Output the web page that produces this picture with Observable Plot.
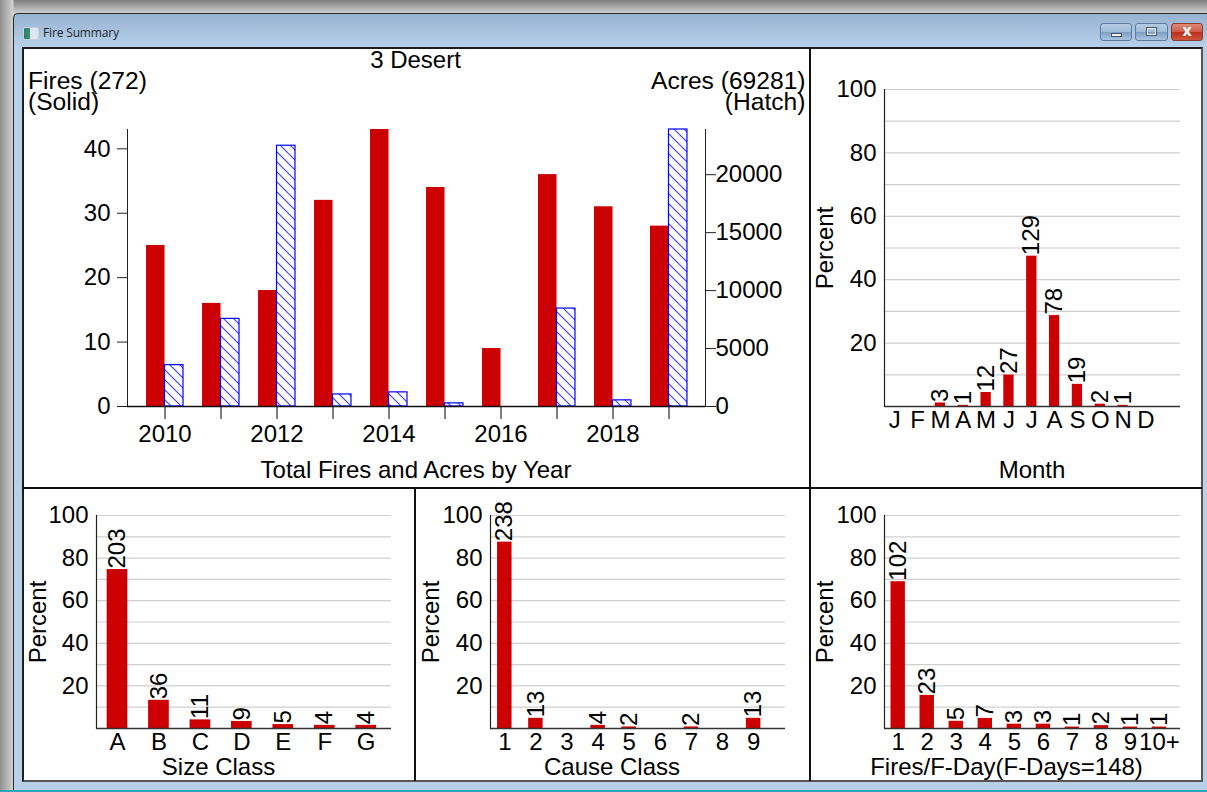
<!DOCTYPE html>
<html>
<head>
<meta charset="utf-8">
<title>Fire Summary</title>
<script src="https://cdn.jsdelivr.net/npm/d3@7"></script>
<script src="https://cdn.jsdelivr.net/npm/@observablehq/plot@0.6"></script>
<style>
html,body{margin:0;padding:0;width:1207px;height:792px;overflow:hidden;background:#c4c4c4;}
.abs{position:absolute;}
#shade{left:0;top:0;width:1207px;height:792px;background:linear-gradient(90deg,#8f8f8f 0,#d2d2d2 13px,transparent 14px),linear-gradient(180deg,#7d7d7d 0,#cfcfcf 13px);}
#win{left:13px;top:13px;width:1194px;height:778px;box-sizing:border-box;border:1px solid #2c2c2c;border-right:none;border-bottom:none;border-radius:5px 0 0 0;background:linear-gradient(180deg,#97b2d1 0,#b8d0ea 33px,#b8d0ea 100%);}
#teal{left:0;top:790px;width:1207px;height:2px;background:#2ba7b8;}
#sheet{left:22px;top:47px;width:1181px;height:735px;background:#fff;box-sizing:border-box;border:2px solid #1c1c1c;border-bottom-color:#555;border-right-color:#555;}
.div{background:#111;}
#ttl{left:43px;top:25px;font:12px "Open Sans",sans-serif;color:#20262e;line-height:16px;letter-spacing:-.15px;}
#ico{left:23px;top:27px;width:14px;height:11px;background:linear-gradient(90deg,#2f7f66 0,#3d8f78 45%,#dfe6ee 46%);border:1px solid #c9d2dc;border-radius:2px;}
.btn{top:23px;height:18px;box-sizing:border-box;border:1px solid #5d7ea3;border-radius:3px;background:linear-gradient(180deg,#b5cbe2 0,#a0bbd8 50%,#7f9fc2 52%,#a8c4e0 100%);}
.svgbox{position:absolute;}
.svgbox svg{display:block;}
</style>
</head>
<body>
<div class="abs" id="shade"></div>
<div class="abs" id="win"></div>
<div class="abs" id="teal"></div>
<div class="abs" id="ico"></div>
<div class="abs" id="ttl">Fire Summary</div>
<div class="abs btn" style="left:1100px;width:32px"><div class="abs" style="left:10px;top:9px;width:11px;height:4px;background:#eef3f8;border:1px solid #44566c;box-sizing:border-box"></div></div>
<div class="abs btn" style="left:1135px;width:33px"><div class="abs" style="left:10px;top:3px;width:11px;height:9px;border:2px solid #eef3f8;outline:1px solid #44566c;outline-offset:-1px;box-sizing:border-box"></div></div>
<div class="abs btn" style="left:1171px;width:32px;border-color:#8c3b30;background:linear-gradient(180deg,#dd8a7a 0,#cf5a47 50%,#b8301c 52%,#d0543c 100%)"><div class="abs" style="left:0;top:-2px;width:30px;text-align:center;font:bold 15px 'DejaVu Sans',sans-serif;line-height:18px;color:#f4f4f4">x</div></div>
<div class="abs" id="sheet"></div>
<div class="abs div" style="left:809px;top:48px;width:2px;height:733px"></div>
<div class="abs div" style="left:23px;top:487px;width:1179px;height:2px"></div>
<div class="abs div" style="left:414px;top:488px;width:2px;height:293px"></div>
<div id="charts"></div>
<script>
// ---- Data ----
const years = [2010, 2011, 2012, 2013, 2014, 2015, 2016, 2017, 2018, 2019];
const fires = [25, 16, 18, 32, 43, 34, 9, 36, 31, 28];
const acres = [3570, 7560, 22500, 1040, 1220, 270, 0, 8450, 530, 23900];

const months = ["J", "F", "M", "A", "M", "J", "J", "A", "S", "O", "N", "D"];
const monthCounts = [0, 0, 3, 1, 12, 27, 129, 78, 19, 2, 1, 0];

const sizeClasses = ["A", "B", "C", "D", "E", "F", "G"];
const sizeCounts = [203, 36, 11, 9, 5, 4, 4];

const causeClasses = ["1", "2", "3", "4", "5", "6", "7", "8", "9"];
const causeCounts = [238, 13, 0, 4, 2, 0, 2, 0, 13];

const fireDayClasses = ["1", "2", "3", "4", "5", "6", "7", "8", "9", "10+"];
const fireDayCounts = [102, 23, 5, 7, 3, 3, 1, 2, 1, 1];

const RED = "#cc0000", BLUE = "#0000ff", HATCH = "#3a3aff", GRID = "#cfcfcf";
const FONT = {fontFamily: "'Liberation Sans', Arial, sans-serif", fontSize: "24px", background: "transparent", color: "#000", overflow: "visible"};
const charts = document.getElementById("charts");

function place(svg, left, top) {
  const box = document.createElement("div");
  box.className = "svgbox";
  box.style.left = left + "px";
  box.style.top = top + "px";
  box.appendChild(svg);
  charts.appendChild(box);
}

// ---- Top-left: fires and acres by year ----
const firesMax = 43, acresMax = 23900;
const toFires = d3.scaleLinear([0, acresMax], [0, firesMax]);
const yearRows = years.map((year, i) => ({year, fires: fires[i], acres: acres[i]}));
const hatch = () => {
  const s = d3.create("svg:defs");
  const p = s.append("pattern").attr("id", "hatch").attr("patternUnits", "userSpaceOnUse")
    .attr("width", 10).attr("height", 10);
  p.append("path").attr("d", "M-1,-1L11,11M-1,9L1,11M9,-1L11,1").attr("stroke", HATCH).attr("stroke-width", 1.1).attr("fill", "none");
  return s.node();
};
place(Plot.plot({
  width: 786, height: 440,
  marginLeft: 104, marginRight: 104, marginTop: 81, marginBottom: 82,
  style: FONT,
  x: {type: "linear", domain: [2009.33, 2019.652]},
  y: {domain: [0, firesMax]},
  marks: [
    hatch,
    Plot.rectY(yearRows, {x1: d => d.year - 0.33, x2: d => d.year, y1: 0, y2: "fires", fill: RED}),
    Plot.rectY(yearRows.filter(d => d.acres > 0), {x1: d => d.year, x2: d => d.year + 0.33, y1: 0, y2: d => toFires(d.acres), fill: "url(#hatch)", stroke: BLUE, strokeWidth: 1.2}),
    Plot.axisX(years, {anchor: "bottom", label: null, tickSize: 13, tickPadding: 5, stroke: "#555", strokeWidth: 1.5, fill: "#000", tickFormat: d => d % 2 === 0 ? String(d) : ""}),
    Plot.axisY([0, 10, 20, 30, 40], {anchor: "left", label: null, tickSize: 10, tickPadding: 7, stroke: "#222", fill: "#000"}),
    Plot.axisY(d3.range(0, 20001, 5000), {anchor: "right", label: null, tickSize: 10, tickPadding: 0, stroke: "#222", fill: "#000", y: d => toFires(d), tickFormat: d => String(d)}),
    Plot.frame({anchor: "left", stroke: "#222", strokeWidth: 1}),
    Plot.frame({anchor: "right", stroke: "#222", strokeWidth: 1}),
    Plot.ruleY([0], {stroke: "#111", strokeWidth: 1.5}),
    Plot.text(["3 Desert"], {text: d => d, frameAnchor: "top", dx: -1, dy: -79, fill: "#000"}),
    Plot.text(["Fires (272)\n(Solid)"], {text: d => d, frameAnchor: "top-left", dx: -99.5, dy: -55, textAnchor: "start", lineHeight: 0.85, fontSize: 24.6, fill: "#000"}),
    Plot.text(["Acres (69281)\n(Hatch)"], {text: d => d, frameAnchor: "top-right", dx: 100, dy: -55, textAnchor: "end", lineHeight: 0.85, fontSize: 24.6, fill: "#000"}),
    Plot.text(["Total Fires and Acres by Year"], {text: d => d, frameAnchor: "bottom", dx: -0.5, dy: 71, fill: "#000"})
  ]
}), 23, 48);

// ---- Percent bar panels ----
function percentPanel({cats, counts, total, left, top, width, height, ml, mr, mt, mb, c0, step, barW, xLabel, labelDx, labelDy, percentOffset, tickPad}) {
  const p = 1 - barW / step;
  const rows = cats.map((c, i) => ({key: i, cat: c, count: counts[i], pct: counts[i] / total * 100}));
  const a = c0 - step * (1 + p) / 2;
  const b = c0 + step * (cats.length - 1) + step * (1 + p) / 2;
  place(Plot.plot({
    width, height, marginLeft: ml, marginRight: mr, marginTop: mt, marginBottom: mb,
    style: FONT,
    x: {type: "band", domain: d3.range(cats.length), range: [a, b], padding: p, round: false},
    y: {domain: [0, 100]},
    marks: [
      Plot.gridY(d3.range(10, 101, 10), {stroke: GRID, strokeOpacity: 1, strokeWidth: 1.2}),
      Plot.barY(rows, {x: "key", y: "pct", fill: RED}),
      Plot.text(rows.filter(d => d.count > 0), {x: "key", y: "pct", text: d => String(d.count), rotate: -90, textAnchor: "start", dy: -1, fill: "#000"}),
      Plot.axisX({anchor: "bottom", label: null, tickSize: 0, tickPadding: tickPad, fill: "#000", tickFormat: i => cats[i]}),
      Plot.axisY([20, 40, 60, 80, 100], {anchor: "left", label: "Percent", labelAnchor: "center", labelOffset: percentOffset, labelArrow: "none", tickSize: 0, tickPadding: 8, fill: "#000"}),
      Plot.frame({anchor: "left", stroke: "#222", strokeWidth: 1.2}),
      Plot.ruleY([0], {stroke: "#333", strokeWidth: 1.5}),
      Plot.text([xLabel], {text: d => d, frameAnchor: "bottom", dx: labelDx, dy: labelDy, fill: "#000"})
    ]
  }), left, top);
}

percentPanel({cats: months, counts: monthCounts, total: 272, left: 810, top: 48, width: 393, height: 440,
  ml: 74, mr: 23, mt: 41, mb: 82, c0: 84.3, step: 22.83, barW: 10.3, xLabel: "Month", labelDx: -0.5, labelDy: 71, percentOffset: 69, tickPad: 4});
percentPanel({cats: sizeClasses, counts: sizeCounts, total: 272, left: 23, top: 489, width: 392, height: 293,
  ml: 73, mr: 24, mt: 26, mb: 54, c0: 94, step: 41.45, barW: 20.7, xLabel: "Size Class", labelDx: -25.5, labelDy: 46, percentOffset: 68, tickPad: 4});
percentPanel({cats: causeClasses, counts: causeCounts, total: 272, left: 416, top: 489, width: 393, height: 293,
  ml: 74, mr: 24, mt: 26, mb: 54, c0: 88.3, step: 31.1, barW: 14.5, xLabel: "Cause Class", labelDx: -26, labelDy: 46, percentOffset: 69, tickPad: 4});
percentPanel({cats: fireDayClasses, counts: fireDayCounts, total: 148, left: 810, top: 489, width: 393, height: 293,
  ml: 74, mr: 23, mt: 26, mb: 54, c0: 87.7, step: 29.03, barW: 14.4, xLabel: "Fires/F-Day(F-Days=148)", labelDx: -26, labelDy: 46, percentOffset: 69, tickPad: 4});
</script>
</body>
</html>
